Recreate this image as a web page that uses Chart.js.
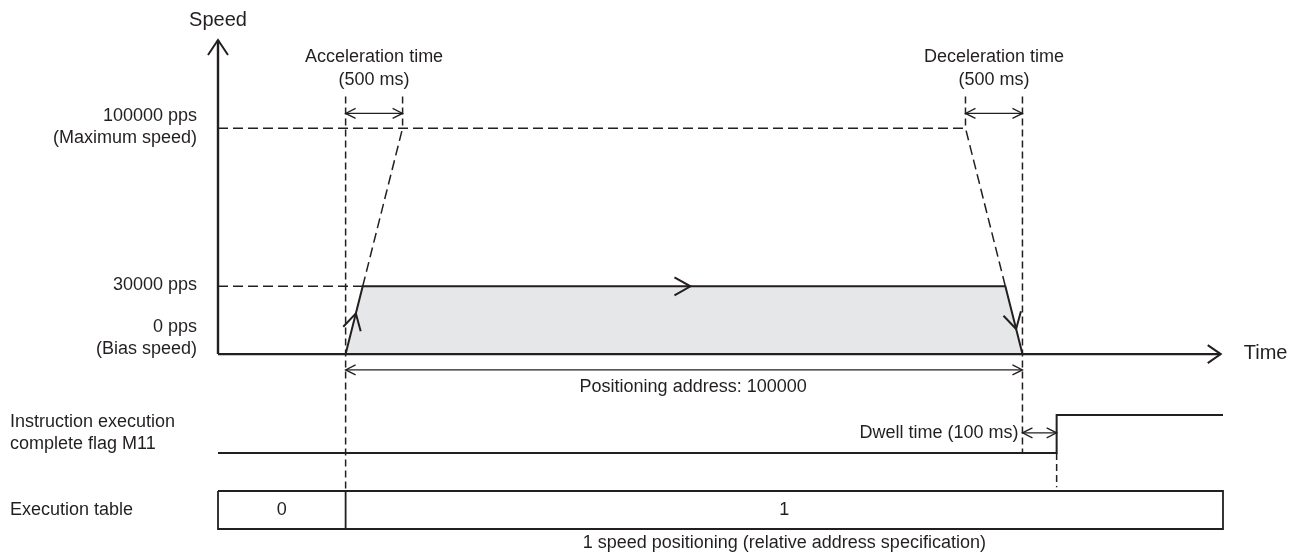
<!DOCTYPE html>
<html>
<head>
<meta charset="utf-8">
<script src="https://cdn.jsdelivr.net/npm/chart.js@4.4.1/dist/chart.umd.min.js"></script>
<style>
  html, body { margin: 0; padding: 0; background: #fff; }
  #wrap { width: 1296px; height: 555px; position: relative; }
</style>
</head>
<body>
<div id="wrap"><canvas id="profileChart"></canvas></div>
<script>
// time in ms (the drawing is not to scale), speed in pps
const timeRange = [-1120, 7700];
const speedRange = [-77400, 139000];
const laneRange = [-2, 10.87];

const speedTicks = [0, 30000, 100000];
const speedTickLabels = [['0 pps', '(Bias speed)'], ['30000 pps'], ['100000 pps', '(Maximum speed)']];

// the actual run at 30000 pps
const profileTimes = [0, 150, 5790, 5940];
const profileSpeeds = [0, 30000, 30000, 0];

// reference slopes up to the maximum speed
const accelRefTimes = [150, 500];
const accelRefSpeeds = [30000, 100000];
const maxRefTimes = [-1120, 5440, 5790];
const maxRefSpeeds = [100000, 100000, 30000];
const commandRefTimes = [-1120, 150];
const commandRefSpeeds = [30000, 30000];

// M11 flag, 0 = off, 1 = on
const flagTimes = [-1120, 6240, 6240, 7700];
const flagStates = [0, 0, 1, 1];

// execution table
const tableEdges = [-1120, 0, 7700];
const tableCells = ['0', '1'];

// timing marks
const accelSpan = [0, 500];
const decelSpan = [5440, 5940];
const moveSpan = [0, 5940];
const dwellSpan = [5940, 6240];

const INK = '#231f20';
const FONT = '"Liberation Sans", Arial, sans-serif';

const pts = (xs, ys) => xs.map((x, i) => ({ x: x, y: ys[i] }));

// open arrow head, apex at (x, y), pointing along (ux, uy)
function chevron(ctx, x, y, ux, uy, len, half) {
    const bx = x - ux * len, by = y - uy * len;
    ctx.beginPath();
    ctx.moveTo(bx - uy * half, by + ux * half);
    ctx.lineTo(x, y);
    ctx.lineTo(bx + uy * half, by - ux * half);
    ctx.stroke();
}

function line(ctx, x1, y1, x2, y2) {
    ctx.beginPath();
    ctx.moveTo(x1, y1);
    ctx.lineTo(x2, y2);
    ctx.stroke();
}

function dimArrow(ctx, x1, x2, y) {
    line(ctx, x1, y, x2, y);
    chevron(ctx, x1, y, -1, 0, 10, 5);
    chevron(ctx, x2, y, 1, 0, 10, 5);
}

function label(ctx, lines, x, y, align, size, lineH) {
    ctx.font = size + 'px ' + FONT;
    ctx.textAlign = align;
    ctx.textBaseline = 'middle';
    lines.forEach((s, i) => ctx.fillText(s, x, y + i * lineH));
}

const diagramPlugin = {
    id: 'diagram',
    afterDatasetsDraw(chart) {
        const ctx = chart.ctx;
        const area = chart.chartArea;
        const X = v => chart.scales.x.getPixelForValue(v);
        const Y = v => chart.scales.y.getPixelForValue(v);
        const L = v => chart.scales.lane.getPixelForValue(v);

        ctx.save();
        ctx.strokeStyle = INK;
        ctx.fillStyle = INK;
        ctx.lineCap = 'butt';

        // dashed guides
        ctx.lineWidth = 1.5;
        ctx.setLineDash([7, 4]);
        const guideTop = Y(114000);
        line(ctx, X(accelSpan[0]), guideTop, X(accelSpan[0]), L(-1));
        line(ctx, X(accelSpan[1]), guideTop, X(accelSpan[1]), Y(100000));
        line(ctx, X(decelSpan[0]), guideTop, X(decelSpan[0]), Y(100000));
        line(ctx, X(decelSpan[1]), guideTop, X(decelSpan[1]), L(0));
        line(ctx, X(dwellSpan[1]), L(0), X(dwellSpan[1]), L(-0.9));
        ctx.setLineDash([]);

        // axes
        const x0 = X(timeRange[0]);
        const y0 = Y(0);
        const xEnd = X(7680);
        ctx.lineWidth = 2.4;
        line(ctx, x0, y0, x0, area.top);
        line(ctx, x0, y0, xEnd, y0);
        ctx.lineWidth = 2;
        chevron(ctx, x0, area.top, 0, -1, 15, 10);
        chevron(ctx, xEnd, y0, 1, 0, 13, 9);

        // direction marks on the profile
        const fr = [0.6, 0.51, 0.63];
        for (let i = 0; i < 3; i++) {
            const ax = X(profileTimes[i]), ay = Y(profileSpeeds[i]);
            const bx = X(profileTimes[i + 1]), by = Y(profileSpeeds[i + 1]);
            const d = Math.hypot(bx - ax, by - ay);
            chevron(ctx, ax + (bx - ax) * fr[i], ay + (by - ay) * fr[i],
                (bx - ax) / d, (by - ay) / d, 16, 9);
        }

        // dimension arrows
        ctx.lineWidth = 1.3;
        const dimY = Y(106500);
        dimArrow(ctx, X(accelSpan[0]), X(accelSpan[1]), dimY);
        dimArrow(ctx, X(decelSpan[0]), X(decelSpan[1]), dimY);
        dimArrow(ctx, X(moveSpan[0]), X(moveSpan[1]), Y(-7000));
        dimArrow(ctx, X(dwellSpan[0]), X(dwellSpan[1]), L(0.53));

        // texts
        label(ctx, ['Speed'], x0, area.top - 20, 'center', 20, 0);
        label(ctx, ['Time'], xEnd + 23, y0 - 1, 'left', 20, 0);

        speedTicks.forEach((v, i) => {
            const lines = speedTickLabels[i];
            const n = lines.length;
            const top = v === 0 ? Y(v) - 5 - (n - 1) * 22 : Y(v) - 1 - (n - 1) * 11;
            label(ctx, lines, x0 - 21, top, 'right', 18, 22);
        });

        label(ctx, ['Acceleration time', '(500 ms)'], (X(accelSpan[0]) + X(accelSpan[1])) / 2, dimY - 56, 'center', 18, 23);
        label(ctx, ['Deceleration time', '(500 ms)'], (X(decelSpan[0]) + X(decelSpan[1])) / 2, dimY - 56, 'center', 18, 23);
        label(ctx, ['Positioning address: 100000'], X(3050), Y(-7000) + 17, 'center', 18, 0);
        label(ctx, ['Dwell time (100 ms)'], X(dwellSpan[0]) - 4, L(0.53), 'right', 18, 0);

        label(ctx, ['Instruction execution', 'complete flag M11'], 10, L(0.53) - 11, 'left', 18, 22);
        label(ctx, ['Execution table'], 10, L(-1.5), 'left', 18, 0);
        tableCells.forEach((c, i) => {
            label(ctx, [c], (X(tableEdges[i]) + X(tableEdges[i + 1])) / 2, L(-1.5), 'center', 18, 0);
        });
        label(ctx, ['1 speed positioning (relative address specification)'],
            (X(tableEdges[1]) + X(tableEdges[2])) / 2, L(-2) + 14, 'center', 18, 0);

        ctx.restore();
    }
};

const solid = { showLine: true, pointRadius: 0, borderColor: INK, fill: false, clip: false, borderJoinStyle: 'miter' };

const tableOutline = pts(
    [tableEdges[0], tableEdges[2], tableEdges[2], tableEdges[0], tableEdges[0]],
    [-1, -1, -2, -2, -1]
);

const datasets = [
    Object.assign({}, solid, {
        data: pts(profileTimes, profileSpeeds), borderWidth: 2,
        fill: 'origin', backgroundColor: '#e6e7e8', yAxisID: 'y'
    }),
    Object.assign({}, solid, { data: pts(accelRefTimes, accelRefSpeeds), borderWidth: 1.5, borderDash: [10, 5], yAxisID: 'y' }),
    Object.assign({}, solid, { data: pts(maxRefTimes, maxRefSpeeds), borderWidth: 1.5, borderDash: [10, 5], yAxisID: 'y' }),
    Object.assign({}, solid, { data: pts(commandRefTimes, commandRefSpeeds), borderWidth: 1.5, borderDash: [10, 5], yAxisID: 'y' }),
    Object.assign({}, solid, { data: pts(flagTimes, flagStates), borderWidth: 2, yAxisID: 'lane' }),
    Object.assign({}, solid, { data: tableOutline, borderWidth: 1.8, yAxisID: 'lane' })
];
tableEdges.slice(1, -1).forEach(t => {
    datasets.push(Object.assign({}, solid, { data: pts([t, t], [-1, -2]), borderWidth: 1.8, yAxisID: 'lane' }));
});

new Chart(document.getElementById('profileChart'), {
    type: 'scatter',
    data: { datasets: datasets },
    options: {
        responsive: true,
        maintainAspectRatio: false,
        animation: false,
        events: [],
        layout: { padding: { left: 218, right: 73, top: 40, bottom: 26 } },
        plugins: { legend: { display: false }, tooltip: { enabled: false } },
        scales: {
            x: { type: 'linear', min: timeRange[0], max: timeRange[1], display: false },
            y: { type: 'linear', min: speedRange[0], max: speedRange[1], display: false },
            lane: { type: 'linear', min: laneRange[0], max: laneRange[1], display: false }
        }
    },
    plugins: [diagramPlugin]
});
</script>
</body>
</html>
